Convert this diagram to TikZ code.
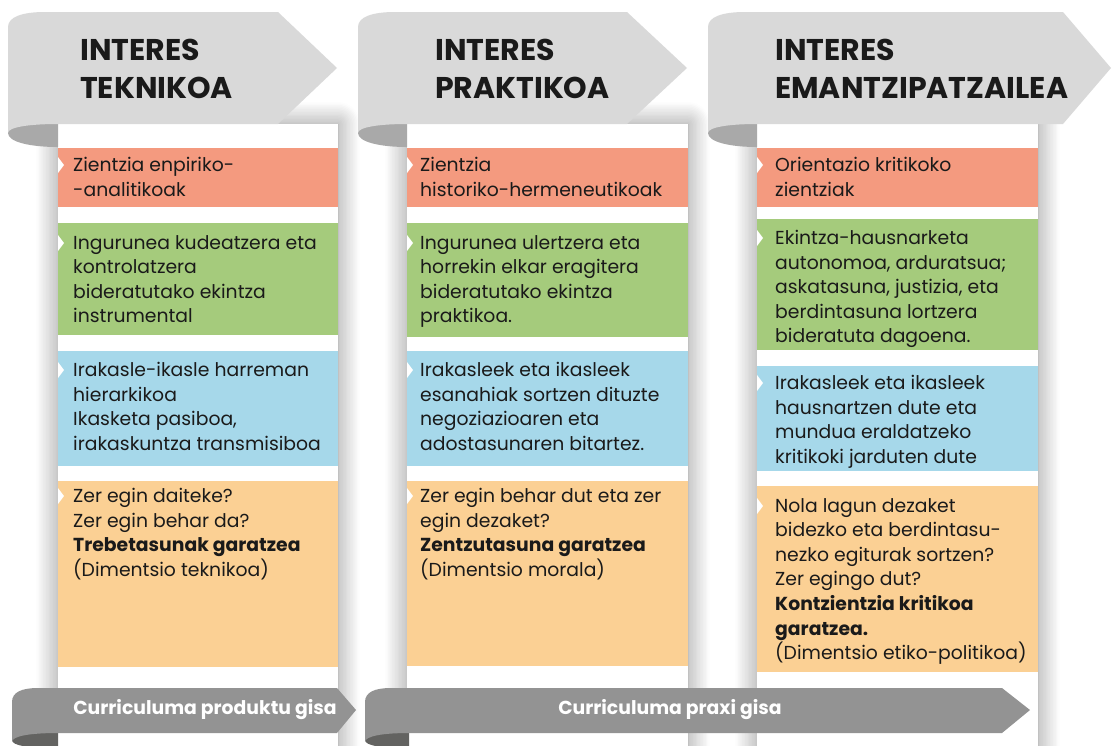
\documentclass[tikz,border=0pt]{standalone}
\usepackage{fontspec}
\setmainfont{Poppins}
\usepackage{tikz}
\usetikzlibrary{shadows.blur}

\definecolor{ink}{HTML}{1A1A1A}
\definecolor{bannergray}{HTML}{D9D9D9}
\definecolor{curlgray}{HTML}{A9A9A9}
\definecolor{bargray}{HTML}{939393}
\definecolor{bardark}{HTML}{636361}
\definecolor{salmonbox}{HTML}{F49A7F}
\definecolor{greenbox}{HTML}{A5CB7C}
\definecolor{bluebox}{HTML}{A6D8EA}
\definecolor{orangebox}{HTML}{FBD094}

\begin{document}
\begin{tikzpicture}[x=1pt, y=-1pt,
    panel/.style={fill=white, blur shadow={shadow xshift=0pt, shadow yshift=0pt, shadow blur radius=22pt, shadow blur steps=16, shadow opacity=45}},
    boxtext/.style={anchor=north west, align=left, inner sep=0pt, text=ink, font=\fontsize{18.8}{24.6}\selectfont},
    titletext/.style={anchor=north west, align=left, inner sep=0pt, text=ink, font=\fontsize{30}{38}\selectfont\bfseries},
    bartext/.style={inner sep=0pt, text=white, font=\fontsize{18.8}{20}\selectfont\bfseries}]
        \useasboundingbox (0,0) rectangle (1113,745);

        % White panels with soft shadow
        \fill[panel] (58,124) rectangle (338,790);
        \fill[panel] (407,124) rectangle (688,790);
        \fill[panel] (757,124) rectangle (1038,790);

        % Header banners (curl first, then the arrow)
        \fill[curlgray] (8,133) .. controls (8,142) and (30,147) .. (58,147) -- (58,120) -- (8,120) -- cycle;
        \fill[bannergray] (8,27) .. controls (8,17) and (22,12) .. (45,12) -- (278,12) -- (337,68) -- (278,124)
            -- (58,124) .. controls (30,124) and (8,127) .. (8,133) -- cycle;
        \node[titletext] (teknikoa) at (80,39) {INTERES\\TEKNIKOA};

        \fill[curlgray] (358,133) .. controls (358,142) and (380,147) .. (407,147) -- (407,120) -- (358,120) -- cycle;
        \fill[bannergray] (358,27) .. controls (358,17) and (372,12) .. (395,12) -- (627,12) -- (687,68) -- (627,124)
            -- (407,124) .. controls (380,124) and (358,127) .. (358,133) -- cycle;
        \node[titletext] (praktikoa) at (435,39) {INTERES\\PRAKTIKOA};

        \fill[curlgray] (708,133) .. controls (708,142) and (730,147) .. (757,147) -- (757,120) -- (708,120) -- cycle;
        \fill[bannergray] (708,27) .. controls (708,17) and (722,12) .. (745,12) -- (1063,12) -- (1111,68) -- (1063,124)
            -- (757,124) .. controls (730,124) and (708,127) .. (708,133) -- cycle;
        \node[titletext] (emantzipatzailea) at (775,39) {INTERES\\EMANTZIPATZAILEA};

        % Column 1
        \fill[salmonbox] (58,148) rectangle (338,207);
        \fill[white] (58,157) -- (64,165) -- (58,173) -- cycle;
        \node[boxtext] (zientzia1) at (73,157) {Zientzia enpiriko-\\-analitikoak};
        \fill[greenbox] (58,223) rectangle (338,335);
        \fill[white] (58,235) -- (64,243) -- (58,251) -- cycle;
        \node[boxtext] (ekintza1) at (73,235) {Ingurunea kudeatzera eta\\kontrolatzera\\bideratutako ekintza\\instrumental};
        \fill[bluebox] (58,351) rectangle (338,466);
        \fill[white] (58,362) -- (64,370) -- (58,378) -- cycle;
        \node[boxtext] (harreman1) at (73,362) {Irakasle-ikasle harreman\\hierarkikoa\\Ikasketa pasiboa,\\irakaskuntza transmisiboa};
        \fill[orangebox] (58,481) rectangle (338,667);
        \fill[white] (58,488) -- (64,496) -- (58,504) -- cycle;
        \node[boxtext] (galdera1) at (73,488) {Zer egin daiteke?\\Zer egin behar da?\\\textbf{Trebetasunak garatzea}\\(Dimentsio teknikoa)};

        % Column 2
        \fill[salmonbox] (407,148) rectangle (688,207);
        \fill[white] (407,157) -- (413,165) -- (407,173) -- cycle;
        \node[boxtext] (zientzia2) at (420,157) {Zientzia\\historiko-hermeneutikoak};
        \fill[greenbox] (407,223) rectangle (688,337);
        \fill[white] (407,235) -- (413,243) -- (407,251) -- cycle;
        \node[boxtext] (ekintza2) at (420,235) {Ingurunea ulertzera eta\\horrekin elkar eragitera\\bideratutako ekintza\\praktikoa.};
        \fill[bluebox] (407,351) rectangle (688,466);
        \fill[white] (407,362) -- (413,370) -- (407,378) -- cycle;
        \node[boxtext] (harreman2) at (420,362) {Irakasleek eta ikasleek\\esanahiak sortzen dituzte\\negoziazioaren eta\\adostasunaren bitartez.};
        \fill[orangebox] (407,481) rectangle (688,666);
        \fill[white] (407,488) -- (413,496) -- (407,504) -- cycle;
        \node[boxtext] (galdera2) at (420,488) {Zer egin behar dut eta zer\\egin dezaket?\\\textbf{Zentzutasuna garatzea}\\(Dimentsio morala)};

        % Column 3
        \fill[salmonbox] (757,148) rectangle (1038,207);
        \fill[white] (757,157) -- (763,165) -- (757,173) -- cycle;
        \node[boxtext] (zientzia3) at (775,157) {Orientazio kritikoko\\zientziak};
        \fill[greenbox] (757,219) rectangle (1038,350);
        \fill[white] (757,230) -- (763,238) -- (757,246) -- cycle;
        \node[boxtext] (ekintza3) at (775,230) {Ekintza-hausnarketa\\autonomoa, arduratsua;\\askatasuna, justizia, eta\\berdintasuna lortzera\\bideratuta dagoena.};
        \fill[bluebox] (757,366) rectangle (1038,471);
        \fill[white] (757,375) -- (763,383) -- (757,391) -- cycle;
        \node[boxtext] (harreman3) at (775,375) {Irakasleek eta ikasleek\\hausnartzen dute eta\\mundua eraldatzeko\\kritikoki jarduten dute};
        \fill[orangebox] (757,486) rectangle (1038,672);
        \fill[white] (757,498) -- (763,506) -- (757,514) -- cycle;
        \node[boxtext] (galdera3) at (775,498) {Nola lagun dezaket\\bidezko eta berdintasu-\\nezko egiturak sortzen?\\Zer egingo dut?\\\textbf{Kontzientzia kritikoa}\\\textbf{garatzea.}\\(Dimentsio etiko-politikoa)};

        % Bottom arrows
        \fill[bardark] (12,740) .. controls (12,746) and (30,748) .. (58,748) -- (58,728) -- (12,728) -- cycle;
        \fill[bargray] (12,702) .. controls (12,692) and (22,688) .. (38,688) -- (337,688) -- (356,710) -- (337,733)
            -- (58,733) .. controls (30,733) and (12,736) .. (12,742) -- cycle;
        \node[bartext] (produktu) at (205,710) {Curriculuma produktu gisa};

        \fill[bardark] (365,740) .. controls (365,746) and (383,748) .. (409,748) -- (409,728) -- (365,728) -- cycle;
        \fill[bargray] (365,702) .. controls (365,692) and (375,688) .. (391,688) -- (1002,688) -- (1030,710) -- (1002,733)
            -- (409,733) .. controls (383,733) and (365,736) .. (365,742) -- cycle;
        \node[bartext] (praxi) at (670,710) {Curriculuma praxi gisa};
    \end{tikzpicture}
\end{document}
